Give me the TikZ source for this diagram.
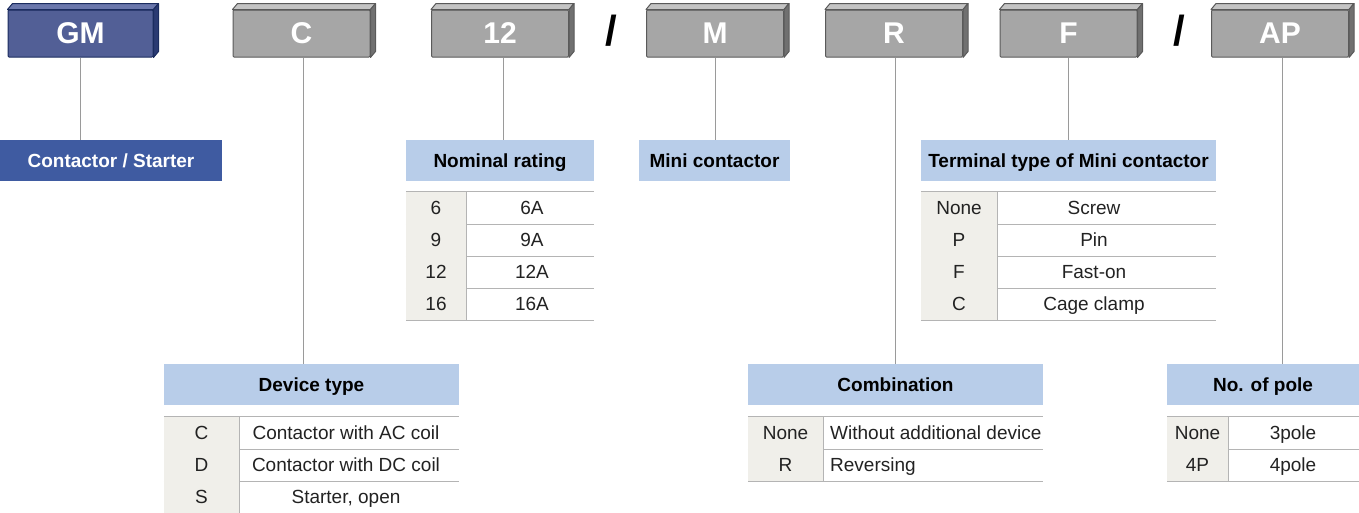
\documentclass[tikz,border=0pt]{standalone}
\usepackage{fontspec}
\setmainfont{Liberation Sans}
\definecolor{gmfront}{HTML}{525F96}
\definecolor{gmedge}{HTML}{1B2C5F}
\definecolor{gmtop}{HTML}{6A77AC}
\definecolor{gmside}{HTML}{2A3A72}
\definecolor{keyfront}{HTML}{A6A6A6}
\definecolor{keyedge}{HTML}{5A5A5A}
\definecolor{keytop}{HTML}{C4C4C4}
\definecolor{keyside}{HTML}{707070}
\definecolor{labblue}{HTML}{3F5BA1}
\definecolor{headfill}{HTML}{B8CDE9}
\definecolor{colfill}{HTML}{F0EFEA}
\definecolor{rulecol}{HTML}{B4B4B4}
\definecolor{linkcol}{HTML}{9A9A9A}
\definecolor{txt}{HTML}{222222}
\newcommand{\tabfont}{\fontsize{19}{21}\selectfont}

\begin{document}
\begin{tikzpicture}[
  x=1pt, y=-1pt,
  key/.style={draw=keyedge, fill=keyfront, line width=1pt, rounded corners=1pt,
              minimum width=137pt, minimum height=47pt, inner sep=0pt,
              text=white, font=\fontsize{30}{30}\selectfont\bfseries},
  gmkey/.style={key, draw=gmedge, fill=gmfront},
  head/.style={fill=headfill, minimum height=41pt, inner sep=0pt,
               text height=13.6pt, text depth=0pt, font=\tabfont\bfseries},
  code/.style={fill=colfill, minimum height=32pt, inner sep=0pt,
               text height=13.6pt, text depth=0pt, font=\tabfont, text=txt},
  val/.style={inner sep=0pt, text height=13.6pt, text depth=0pt,
              font=\tabfont, text=txt},
  rule/.style={draw=rulecol, line width=1.2pt},
  link/.style={draw=linkcol, line width=0.8pt},
  slash/.style={inner sep=0pt, font=\fontsize{42}{42}\selectfont\bfseries},
]
\useasboundingbox (0,0) rectangle (1359,512);

% code keys
\node[gmkey, minimum width=145pt] (kGM) at (80.5,33.5) {GM};
\foreach \n/\x/\t in {kC/301.5/C, kNom/500/12, kM/715/M, kR/894/R, kF/1068.5/F, kAP/1280/AP}
  \node[key] (\n) at (\x,33.5) {\t};
\node[slash] (sl1) at (611,31) {/};
\node[slash] (sl2) at (1179,31) {/};

% bevels
\foreach \n/\c in {kGM/gm, kC/key, kNom/key, kM/key, kR/key, kF/key, kAP/key} {
  \filldraw[fill=\c top, draw=\c edge, line width=1pt, line join=round]
    (\n.north west) -- ++(5,-6) -- ([shift={(5,-6)}]\n.north east) -- (\n.north east) -- cycle;
  \filldraw[fill=\c side, draw=\c edge, line width=1pt, line join=round]
    (\n.north east) -- ++(5,-6) -- ([shift={(5,-6)}]\n.south east) -- (\n.south east) -- cycle;
}

% headers
\node[fill=labblue, minimum width=222pt, minimum height=41pt, inner sep=0pt,
      text height=13.6pt, text depth=0pt,
      text=white, font=\tabfont\bfseries] (hCS) at (111,160.5) {Contactor / Starter};
\node[head, minimum width=188pt] (hNom) at (500,160.5) {Nominal rating};
\node[head, minimum width=151pt] (hMini) at (714.5,160.5) {Mini contactor};
\node[head, minimum width=295pt] (hTer) at (1068.5,160.5) {Terminal type of Mini contactor};
\node[head, minimum width=295pt] (hDev) at (311.5,384.5) {Device type};
\node[head, minimum width=295pt] (hCom) at (895.5,384.5) {Combination};
\node[head, minimum width=192pt] (hPol) at (1263,384.5) {No. of pole};

% links
\draw[link] (kGM.south) -- (kGM.south |- hCS.north);
\draw[link] ([xshift=2pt]kC.south) -- ([xshift=2pt]kC.south |- hDev.north);
\draw[link] ([xshift=3pt]kNom.south) -- ([xshift=3pt]kNom.south |- hNom.north);
\draw[link] (kM.south) -- (kM.south |- hMini.north);
\draw[link] ([xshift=1pt]kR.south) -- ([xshift=1pt]kR.south |- hCom.north);
\draw[link] (kF.south) -- (kF.south |- hTer.north);
\draw[link] ([xshift=2pt]kAP.south) -- ([xshift=2pt]kAP.south |- hPol.north);

% nominal rating
\foreach \k/\v [count=\i] in {6/6A, 9/9A, 12/12A, 16/16A} {
  \node[code, minimum width=60pt] (nk\i) at (436,192+32*\i-16) {\k};
  \node[val] (nv\i) at (532,192+32*\i-16) {\v};
  \draw[rule] (hNom.west |- nk\i.south) -- (hNom.east |- nk\i.south);
}
\draw[rule] (hNom.west |- nk1.north) -- (hNom.east |- nk1.north);
\draw[rule] (nk1.north east) -- (nk4.south east);

% terminal type
\foreach \k/\v [count=\i] in {None/Screw, P/Pin, F/Fast-on, C/Cage clamp} {
  \node[code, minimum width=76pt] (tk\i) at (959,192+32*\i-16) {\k};
  \node[val] (tv\i) at (1094,192+32*\i-16) {\v};
  \draw[rule] (hTer.west |- tk\i.south) -- (hTer.east |- tk\i.south);
}
\draw[rule] (hTer.west |- tk1.north) -- (hTer.east |- tk1.north);
\draw[rule] (tk1.north east) -- (tk4.south east);

% device type
\foreach \k/\v [count=\i] in {C/Contactor with AC coil, D/Contactor with DC coil, S/{Starter, open}} {
  \node[code, minimum width=75pt] (dk\i) at (201.5,417+32*\i-16) {\k};
  \node[val] (dv\i) at (346,417+32*\i-16) {\v};
  \draw[rule] (hDev.west |- dk\i.south) -- (hDev.east |- dk\i.south);
}
\draw[rule] (hDev.west |- dk1.north) -- (hDev.east |- dk1.north);
\draw[rule] (dk1.north east) -- (dk3.south east);

% combination
\foreach \k/\v [count=\i] in {None/Without additional device, R/Reversing} {
  \node[code, minimum width=75pt] (ck\i) at (785.5,417+32*\i-16) {\k};
  \node[val, anchor=west] (cv\i) at (830,417+32*\i-16) {\v};
  \draw[rule] (hCom.west |- ck\i.south) -- (hCom.east |- ck\i.south);
}
\draw[rule] (hCom.west |- ck1.north) -- (hCom.east |- ck1.north);
\draw[rule] (ck1.north east) -- (ck2.south east);

% number of poles
\foreach \k/\v [count=\i] in {None/3pole, 4P/4pole} {
  \node[code, minimum width=61pt] (pk\i) at (1197.5,417+32*\i-16) {\k};
  \node[val] (pv\i) at (1293,417+32*\i-16) {\v};
  \draw[rule] (hPol.west |- pk\i.south) -- (hPol.east |- pk\i.south);
}
\draw[rule] (hPol.west |- pk1.north) -- (hPol.east |- pk1.north);
\draw[rule] (pk1.north east) -- (pk2.south east);
\end{tikzpicture}
\end{document}
